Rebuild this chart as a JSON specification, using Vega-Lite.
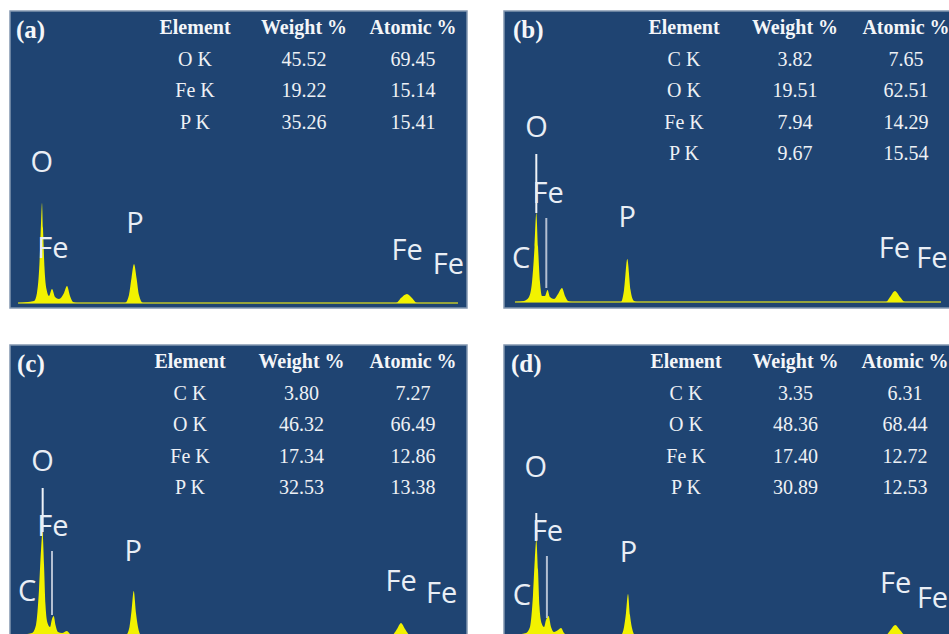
{
  "$schema": "https://vega.github.io/schema/vega-lite/v6.json",
  "background": "white",
  "padding": {"left": 9, "top": 10, "right": 0, "bottom": 0},
  "config": {
    "view": {"fill": "#1f4472", "stroke": "#8396b0", "strokeWidth": 1.5},
    "concat": {"spacing": 35}
  },
  "datasets": {
    "spec": [
      {"p":"a","keV":0.131,"counts":0},{"p":"a","keV":0.392,"counts":2},{"p":"a","keV":0.440,"counts":10},{"p":"a","keV":0.481,"counts":40},{"p":"a","keV":0.506,"counts":80},{"p":"a","keV":0.522,"counts":100},{"p":"a","keV":0.538,"counts":75},{"p":"a","keV":0.563,"counts":35},{"p":"a","keV":0.595,"counts":14},{"p":"a","keV":0.636,"counts":7},{"p":"a","keV":0.685,"counts":14},{"p":"a","keV":0.734,"counts":6},{"p":"a","keV":0.799,"counts":4},{"p":"a","keV":0.881,"counts":10},{"p":"a","keV":0.930,"counts":17},{"p":"a","keV":0.979,"counts":7},{"p":"a","keV":1.028,"counts":1},{"p":"a","keV":1.093,"counts":0},{"p":"a","keV":1.876,"counts":0},{"p":"a","keV":1.941,"counts":8},{"p":"a","keV":1.982,"counts":25},{"p":"a","keV":2.023,"counts":39},{"p":"a","keV":2.064,"counts":25},{"p":"a","keV":2.104,"counts":8},{"p":"a","keV":2.170,"counts":0},{"p":"a","keV":6.297,"counts":0},{"p":"a","keV":6.378,"counts":5},{"p":"a","keV":6.476,"counts":9},{"p":"a","keV":6.558,"counts":5},{"p":"a","keV":6.639,"counts":0},{"p":"a","keV":7.308,"counts":0},
      {"p":"b","keV":0.179,"counts":0},{"p":"b","keV":0.326,"counts":1},{"p":"b","keV":0.408,"counts":5},{"p":"b","keV":0.457,"counts":20},{"p":"b","keV":0.498,"counts":55},{"p":"b","keV":0.527,"counts":89},{"p":"b","keV":0.555,"counts":55},{"p":"b","keV":0.587,"counts":20},{"p":"b","keV":0.620,"counts":6},{"p":"b","keV":0.669,"counts":6},{"p":"b","keV":0.710,"counts":12},{"p":"b","keV":0.750,"counts":5},{"p":"b","keV":0.816,"counts":3},{"p":"b","keV":0.881,"counts":8},{"p":"b","keV":0.946,"counts":14},{"p":"b","keV":0.995,"counts":6},{"p":"b","keV":1.044,"counts":1},{"p":"b","keV":1.109,"counts":0},{"p":"b","keV":1.909,"counts":0},{"p":"b","keV":1.958,"counts":12},{"p":"b","keV":2.011,"counts":43},{"p":"b","keV":2.064,"counts":12},{"p":"b","keV":2.121,"counts":1},{"p":"b","keV":2.170,"counts":0},{"p":"b","keV":6.232,"counts":0},{"p":"b","keV":6.297,"counts":5},{"p":"b","keV":6.378,"counts":11},{"p":"b","keV":6.460,"counts":5},{"p":"b","keV":6.542,"counts":0},{"p":"b","keV":7.129,"counts":0},
      {"p":"c","keV":0.147,"counts":0},{"p":"c","keV":0.359,"counts":2},{"p":"c","keV":0.424,"counts":10},{"p":"c","keV":0.473,"counts":45},{"p":"c","keV":0.506,"counts":85},{"p":"c","keV":0.530,"counts":103},{"p":"c","keV":0.555,"counts":70},{"p":"c","keV":0.579,"counts":30},{"p":"c","keV":0.612,"counts":12},{"p":"c","keV":0.653,"counts":8},{"p":"c","keV":0.685,"counts":16},{"p":"c","keV":0.713,"counts":19},{"p":"c","keV":0.742,"counts":10},{"p":"c","keV":0.783,"counts":3},{"p":"c","keV":0.848,"counts":2},{"p":"c","keV":0.930,"counts":4},{"p":"c","keV":0.979,"counts":1},{"p":"c","keV":1.044,"counts":0},{"p":"c","keV":1.892,"counts":0},{"p":"c","keV":1.949,"counts":8},{"p":"c","keV":1.982,"counts":24},{"p":"c","keV":2.018,"counts":44},{"p":"c","keV":2.055,"counts":22},{"p":"c","keV":2.088,"counts":8},{"p":"c","keV":2.137,"counts":0},{"p":"c","keV":6.232,"counts":0},{"p":"c","keV":6.313,"counts":6},{"p":"c","keV":6.378,"counts":12},{"p":"c","keV":6.444,"counts":6},{"p":"c","keV":6.525,"counts":0},{"p":"c","keV":7.325,"counts":0},
      {"p":"d","keV":0.163,"counts":0},{"p":"d","keV":0.359,"counts":2},{"p":"d","keV":0.424,"counts":8},{"p":"d","keV":0.473,"counts":40},{"p":"d","keV":0.502,"counts":75},{"p":"d","keV":0.527,"counts":95},{"p":"d","keV":0.555,"counts":65},{"p":"d","keV":0.579,"counts":28},{"p":"d","keV":0.612,"counts":12},{"p":"d","keV":0.653,"counts":8},{"p":"d","keV":0.685,"counts":15},{"p":"d","keV":0.726,"counts":19},{"p":"d","keV":0.767,"counts":8},{"p":"d","keV":0.816,"counts":3},{"p":"d","keV":0.881,"counts":5},{"p":"d","keV":0.930,"counts":7},{"p":"d","keV":0.979,"counts":2},{"p":"d","keV":1.028,"counts":0},{"p":"d","keV":1.909,"counts":0},{"p":"d","keV":1.958,"counts":8},{"p":"d","keV":1.990,"counts":22},{"p":"d","keV":2.023,"counts":41},{"p":"d","keV":2.055,"counts":20},{"p":"d","keV":2.088,"counts":7},{"p":"d","keV":2.137,"counts":0},{"p":"d","keV":6.232,"counts":0},{"p":"d","keV":6.305,"counts":5},{"p":"d","keV":6.383,"counts":10},{"p":"d","keV":6.460,"counts":5},{"p":"d","keV":6.542,"counts":0},{"p":"d","keV":7.178,"counts":0}
    ],
    "labels": [
      {"p":"a","keV":0.70,"counts":45,"text":"Fe"},{"p":"a","keV":0.517,"counts":131,"text":"O"},{"p":"a","keV":2.04,"counts":70,"text":"P"},{"p":"a","keV":6.48,"counts":43,"text":"Fe"},{"p":"a","keV":7.15,"counts":29,"text":"Fe"},
      {"p":"b","keV":0.28,"counts":34,"text":"C"},{"p":"b","keV":0.53,"counts":165,"text":"O"},{"p":"b","keV":0.72,"counts":99,"text":"Fe"},{"p":"b","keV":2.01,"counts":75,"text":"P"},{"p":"b","keV":6.37,"counts":44,"text":"Fe"},{"p":"b","keV":6.98,"counts":34,"text":"Fe"},
      {"p":"c","keV":0.28,"counts":34,"text":"C"},{"p":"c","keV":0.53,"counts":164,"text":"O"},{"p":"c","keV":0.70,"counts":99,"text":"Fe"},{"p":"c","keV":2.01,"counts":74,"text":"P"},{"p":"c","keV":6.38,"counts":44,"text":"Fe"},{"p":"c","keV":7.04,"counts":32,"text":"Fe"},
      {"p":"d","keV":0.29,"counts":30,"text":"C"},{"p":"d","keV":0.52,"counts":158,"text":"O"},{"p":"d","keV":0.71,"counts":94,"text":"Fe"},{"p":"d","keV":2.03,"counts":73,"text":"P"},{"p":"d","keV":6.39,"counts":42,"text":"Fe"},{"p":"d","keV":6.99,"counts":27,"text":"Fe"}
    ],
    "panels": [
      {"p":"a","keV":0.098,"counts":265,"text":"(a)"},
      {"p":"b","keV":0.147,"counts":264,"text":"(b)"},
      {"p":"c","keV":0.114,"counts":263,"text":"(c)"},
      {"p":"d","keV":0.114,"counts":263,"text":"(d)"}
    ],
    "lines": [
      {"p":"b","keV":0.527,"y1":89,"y2":148,"kind":"O"},{"p":"b","keV":0.69,"y1":14,"y2":84,"kind":"Fe"},
      {"p":"c","keV":0.533,"y1":103,"y2":147,"kind":"O"},{"p":"c","keV":0.685,"y1":20,"y2":84,"kind":"Fe"},
      {"p":"d","keV":0.527,"y1":95,"y2":122,"kind":"O"},{"p":"d","keV":0.70,"y1":17,"y2":79,"kind":"Fe"}
    ],
    "table": [
      {"p":"a","row":0,"col":"Element","text":"Element"},{"p":"a","row":0,"col":"Weight %","text":"Weight %"},{"p":"a","row":0,"col":"Atomic %","text":"Atomic %"},
      {"p":"a","row":1,"col":"Element","text":"O K"},{"p":"a","row":1,"col":"Weight %","text":"45.52"},{"p":"a","row":1,"col":"Atomic %","text":"69.45"},
      {"p":"a","row":2,"col":"Element","text":"Fe K"},{"p":"a","row":2,"col":"Weight %","text":"19.22"},{"p":"a","row":2,"col":"Atomic %","text":"15.14"},
      {"p":"a","row":3,"col":"Element","text":"P K"},{"p":"a","row":3,"col":"Weight %","text":"35.26"},{"p":"a","row":3,"col":"Atomic %","text":"15.41"},
      {"p":"b","row":0,"col":"Element","text":"Element"},{"p":"b","row":0,"col":"Weight %","text":"Weight %"},{"p":"b","row":0,"col":"Atomic %","text":"Atomic %"},
      {"p":"b","row":1,"col":"Element","text":"C K"},{"p":"b","row":1,"col":"Weight %","text":"3.82"},{"p":"b","row":1,"col":"Atomic %","text":"7.65"},
      {"p":"b","row":2,"col":"Element","text":"O K"},{"p":"b","row":2,"col":"Weight %","text":"19.51"},{"p":"b","row":2,"col":"Atomic %","text":"62.51"},
      {"p":"b","row":3,"col":"Element","text":"Fe K"},{"p":"b","row":3,"col":"Weight %","text":"7.94"},{"p":"b","row":3,"col":"Atomic %","text":"14.29"},
      {"p":"b","row":4,"col":"Element","text":"P K"},{"p":"b","row":4,"col":"Weight %","text":"9.67"},{"p":"b","row":4,"col":"Atomic %","text":"15.54"},
      {"p":"c","row":0,"col":"Element","text":"Element"},{"p":"c","row":0,"col":"Weight %","text":"Weight %"},{"p":"c","row":0,"col":"Atomic %","text":"Atomic %"},
      {"p":"c","row":1,"col":"Element","text":"C K"},{"p":"c","row":1,"col":"Weight %","text":"3.80"},{"p":"c","row":1,"col":"Atomic %","text":"7.27"},
      {"p":"c","row":2,"col":"Element","text":"O K"},{"p":"c","row":2,"col":"Weight %","text":"46.32"},{"p":"c","row":2,"col":"Atomic %","text":"66.49"},
      {"p":"c","row":3,"col":"Element","text":"Fe K"},{"p":"c","row":3,"col":"Weight %","text":"17.34"},{"p":"c","row":3,"col":"Atomic %","text":"12.86"},
      {"p":"c","row":4,"col":"Element","text":"P K"},{"p":"c","row":4,"col":"Weight %","text":"32.53"},{"p":"c","row":4,"col":"Atomic %","text":"13.38"},
      {"p":"d","row":0,"col":"Element","text":"Element"},{"p":"d","row":0,"col":"Weight %","text":"Weight %"},{"p":"d","row":0,"col":"Atomic %","text":"Atomic %"},
      {"p":"d","row":1,"col":"Element","text":"C K"},{"p":"d","row":1,"col":"Weight %","text":"3.35"},{"p":"d","row":1,"col":"Atomic %","text":"6.31"},
      {"p":"d","row":2,"col":"Element","text":"O K"},{"p":"d","row":2,"col":"Weight %","text":"48.36"},{"p":"d","row":2,"col":"Atomic %","text":"68.44"},
      {"p":"d","row":3,"col":"Element","text":"Fe K"},{"p":"d","row":3,"col":"Weight %","text":"17.40"},{"p":"d","row":3,"col":"Atomic %","text":"12.72"},
      {"p":"d","row":4,"col":"Element","text":"P K"},{"p":"d","row":4,"col":"Weight %","text":"30.89"},{"p":"d","row":4,"col":"Atomic %","text":"12.53"}
    ]
  },
  "vconcat": [
    {"hconcat": [
      {
        "width": 457, "height": 297,
        "layer": [
          {"layer": [
            {"data": {"name": "spec"}, "transform": [{"filter": "datum.p === 'a'"}], "mark": {"type": "line", "color": "#96a43c", "strokeWidth": 2},
             "encoding": {"x": {"field": "keV", "type": "quantitative", "scale": {"domain": [0, 7.455], "nice": false, "zero": false}, "axis": null}, "y": {"datum": 0, "type": "quantitative", "scale": {"domain": [-5, 292], "nice": false, "zero": false}, "axis": null}}},
            {"data": {"name": "spec"}, "transform": [{"filter": "datum.p === 'a'"}], "mark": {"type": "area", "color": "#f2f200", "interpolate": "monotone"},
             "encoding": {"x": {"field": "keV", "type": "quantitative"}, "y": {"field": "counts", "type": "quantitative"}, "y2": {"datum": 0}}},
            {"data": {"name": "labels"}, "transform": [{"filter": "datum.p === 'a'"}], "mark": {"type": "text", "font": "Open Sans", "fontSize": 29, "color": "#e9eef5", "baseline": "alphabetic", "align": "center"},
             "encoding": {"x": {"field": "keV", "type": "quantitative"}, "y": {"field": "counts", "type": "quantitative"}, "text": {"field": "text"}}},
            {"data": {"name": "panels"}, "transform": [{"filter": "datum.p === 'a'"}], "mark": {"type": "text", "font": "Liberation Serif", "fontWeight": "bold", "fontSize": 25, "color": "#f4f6f9", "baseline": "alphabetic", "align": "left"},
             "encoding": {"x": {"field": "keV", "type": "quantitative"}, "y": {"field": "counts", "type": "quantitative"}, "text": {"field": "text"}}}
          ]},
          {"data": {"name": "table"}, "transform": [{"filter": "datum.p === 'a'"}],
           "encoding": {"x": {"field": "col", "type": "ordinal", "scale": {"type": "point", "domain": ["Element", "Weight %", "Atomic %"], "range": [185, 403], "padding": 0}, "axis": null},
                        "y": {"field": "row", "type": "ordinal", "scale": {"type": "point", "domain": [0, 1, 2, 3, 4], "range": [23, 149], "padding": 0}, "axis": null},
                        "text": {"field": "text"}},
           "layer": [
             {"transform": [{"filter": "datum.row === 0"}], "mark": {"type": "text", "font": "Liberation Serif", "fontWeight": "bold", "fontSize": 20, "color": "#f4f6f9", "baseline": "alphabetic"}},
             {"transform": [{"filter": "datum.row > 0"}], "mark": {"type": "text", "font": "Liberation Serif", "fontSize": 20, "color": "#eef1f5", "baseline": "alphabetic"}}
           ]}
        ],
        "resolve": {"scale": {"x": "independent", "y": "independent"}}
      },
      {
        "width": 448, "height": 297,
        "layer": [
          {"layer": [
            {"data": {"name": "spec"}, "transform": [{"filter": "datum.p === 'b'"}], "mark": {"type": "line", "color": "#96a43c", "strokeWidth": 2},
             "encoding": {"x": {"field": "keV", "type": "quantitative", "scale": {"domain": [0, 7.308], "nice": false, "zero": false}, "axis": null}, "y": {"datum": 0, "type": "quantitative", "scale": {"domain": [-6, 291], "nice": false, "zero": false}, "axis": null}}},
            {"data": {"name": "spec"}, "transform": [{"filter": "datum.p === 'b'"}], "mark": {"type": "area", "color": "#f2f200", "interpolate": "monotone"},
             "encoding": {"x": {"field": "keV", "type": "quantitative"}, "y": {"field": "counts", "type": "quantitative"}, "y2": {"datum": 0}}},
            {"data": {"name": "lines"}, "transform": [{"filter": "datum.p === 'b'"}], "mark": {"type": "rule", "strokeWidth": 2},
             "encoding": {"x": {"field": "keV", "type": "quantitative"}, "y": {"field": "y1", "type": "quantitative"}, "y2": {"field": "y2"}, "color": {"field": "kind", "type": "nominal", "scale": {"domain": ["O", "Fe"], "range": ["#eef2f7", "#b3bfd2"]}, "legend": null}}},
            {"data": {"name": "labels"}, "transform": [{"filter": "datum.p === 'b'"}], "mark": {"type": "text", "font": "Open Sans", "fontSize": 29, "color": "#e9eef5", "baseline": "alphabetic", "align": "center"},
             "encoding": {"x": {"field": "keV", "type": "quantitative"}, "y": {"field": "counts", "type": "quantitative"}, "text": {"field": "text"}}},
            {"data": {"name": "panels"}, "transform": [{"filter": "datum.p === 'b'"}], "mark": {"type": "text", "font": "Liberation Serif", "fontWeight": "bold", "fontSize": 25, "color": "#f4f6f9", "baseline": "alphabetic", "align": "left"},
             "encoding": {"x": {"field": "keV", "type": "quantitative"}, "y": {"field": "counts", "type": "quantitative"}, "text": {"field": "text"}}}
          ]},
          {"data": {"name": "table"}, "transform": [{"filter": "datum.p === 'b'"}],
           "encoding": {"x": {"field": "col", "type": "ordinal", "scale": {"type": "point", "domain": ["Element", "Weight %", "Atomic %"], "range": [180, 402], "padding": 0}, "axis": null},
                        "y": {"field": "row", "type": "ordinal", "scale": {"type": "point", "domain": [0, 1, 2, 3, 4], "range": [23, 149], "padding": 0}, "axis": null},
                        "text": {"field": "text"}},
           "layer": [
             {"transform": [{"filter": "datum.row === 0"}], "mark": {"type": "text", "font": "Liberation Serif", "fontWeight": "bold", "fontSize": 20, "color": "#f4f6f9", "baseline": "alphabetic"}},
             {"transform": [{"filter": "datum.row > 0"}], "mark": {"type": "text", "font": "Liberation Serif", "fontSize": 20, "color": "#eef1f5", "baseline": "alphabetic"}}
           ]}
        ],
        "resolve": {"scale": {"x": "independent", "y": "independent"}}
      }
    ]},
    {"hconcat": [
      {
        "width": 457, "height": 292,
        "layer": [
          {"layer": [
            {"data": {"name": "spec"}, "transform": [{"filter": "datum.p === 'c'"}], "mark": {"type": "line", "color": "#96a43c", "strokeWidth": 2},
             "encoding": {"x": {"field": "keV", "type": "quantitative", "scale": {"domain": [0, 7.455], "nice": false, "zero": false}, "axis": null}, "y": {"datum": 0, "type": "quantitative", "scale": {"domain": [-2, 290], "nice": false, "zero": false}, "axis": null}}},
            {"data": {"name": "spec"}, "transform": [{"filter": "datum.p === 'c'"}], "mark": {"type": "area", "color": "#f2f200", "interpolate": "monotone"},
             "encoding": {"x": {"field": "keV", "type": "quantitative"}, "y": {"field": "counts", "type": "quantitative"}, "y2": {"datum": 0}}},
            {"data": {"name": "lines"}, "transform": [{"filter": "datum.p === 'c'"}], "mark": {"type": "rule", "strokeWidth": 2},
             "encoding": {"x": {"field": "keV", "type": "quantitative"}, "y": {"field": "y1", "type": "quantitative"}, "y2": {"field": "y2"}, "color": {"field": "kind", "type": "nominal", "scale": {"domain": ["O", "Fe"], "range": ["#eef2f7", "#b3bfd2"]}, "legend": null}}},
            {"data": {"name": "labels"}, "transform": [{"filter": "datum.p === 'c'"}], "mark": {"type": "text", "font": "Open Sans", "fontSize": 29, "color": "#e9eef5", "baseline": "alphabetic", "align": "center"},
             "encoding": {"x": {"field": "keV", "type": "quantitative"}, "y": {"field": "counts", "type": "quantitative"}, "text": {"field": "text"}}},
            {"data": {"name": "panels"}, "transform": [{"filter": "datum.p === 'c'"}], "mark": {"type": "text", "font": "Liberation Serif", "fontWeight": "bold", "fontSize": 25, "color": "#f4f6f9", "baseline": "alphabetic", "align": "left"},
             "encoding": {"x": {"field": "keV", "type": "quantitative"}, "y": {"field": "counts", "type": "quantitative"}, "text": {"field": "text"}}}
          ]},
          {"data": {"name": "table"}, "transform": [{"filter": "datum.p === 'c'"}],
           "encoding": {"x": {"field": "col", "type": "ordinal", "scale": {"type": "point", "domain": ["Element", "Weight %", "Atomic %"], "range": [180, 403], "padding": 0}, "axis": null},
                        "y": {"field": "row", "type": "ordinal", "scale": {"type": "point", "domain": [0, 1, 2, 3, 4], "range": [23, 149], "padding": 0}, "axis": null},
                        "text": {"field": "text"}},
           "layer": [
             {"transform": [{"filter": "datum.row === 0"}], "mark": {"type": "text", "font": "Liberation Serif", "fontWeight": "bold", "fontSize": 20, "color": "#f4f6f9", "baseline": "alphabetic"}},
             {"transform": [{"filter": "datum.row > 0"}], "mark": {"type": "text", "font": "Liberation Serif", "fontSize": 20, "color": "#eef1f5", "baseline": "alphabetic"}}
           ]}
        ],
        "resolve": {"scale": {"x": "independent", "y": "independent"}}
      },
      {
        "width": 448, "height": 292,
        "layer": [
          {"layer": [
            {"data": {"name": "spec"}, "transform": [{"filter": "datum.p === 'd'"}], "mark": {"type": "line", "color": "#96a43c", "strokeWidth": 2},
             "encoding": {"x": {"field": "keV", "type": "quantitative", "scale": {"domain": [0, 7.308], "nice": false, "zero": false}, "axis": null}, "y": {"datum": 0, "type": "quantitative", "scale": {"domain": [-2, 290], "nice": false, "zero": false}, "axis": null}}},
            {"data": {"name": "spec"}, "transform": [{"filter": "datum.p === 'd'"}], "mark": {"type": "area", "color": "#f2f200", "interpolate": "monotone"},
             "encoding": {"x": {"field": "keV", "type": "quantitative"}, "y": {"field": "counts", "type": "quantitative"}, "y2": {"datum": 0}}},
            {"data": {"name": "lines"}, "transform": [{"filter": "datum.p === 'd'"}], "mark": {"type": "rule", "strokeWidth": 2},
             "encoding": {"x": {"field": "keV", "type": "quantitative"}, "y": {"field": "y1", "type": "quantitative"}, "y2": {"field": "y2"}, "color": {"field": "kind", "type": "nominal", "scale": {"domain": ["O", "Fe"], "range": ["#eef2f7", "#b3bfd2"]}, "legend": null}}},
            {"data": {"name": "labels"}, "transform": [{"filter": "datum.p === 'd'"}], "mark": {"type": "text", "font": "Open Sans", "fontSize": 29, "color": "#e9eef5", "baseline": "alphabetic", "align": "center"},
             "encoding": {"x": {"field": "keV", "type": "quantitative"}, "y": {"field": "counts", "type": "quantitative"}, "text": {"field": "text"}}},
            {"data": {"name": "panels"}, "transform": [{"filter": "datum.p === 'd'"}], "mark": {"type": "text", "font": "Liberation Serif", "fontWeight": "bold", "fontSize": 25, "color": "#f4f6f9", "baseline": "alphabetic", "align": "left"},
             "encoding": {"x": {"field": "keV", "type": "quantitative"}, "y": {"field": "counts", "type": "quantitative"}, "text": {"field": "text"}}}
          ]},
          {"data": {"name": "table"}, "transform": [{"filter": "datum.p === 'd'"}],
           "encoding": {"x": {"field": "col", "type": "ordinal", "scale": {"type": "point", "domain": ["Element", "Weight %", "Atomic %"], "range": [182, 401], "padding": 0}, "axis": null},
                        "y": {"field": "row", "type": "ordinal", "scale": {"type": "point", "domain": [0, 1, 2, 3, 4], "range": [23, 149], "padding": 0}, "axis": null},
                        "text": {"field": "text"}},
           "layer": [
             {"transform": [{"filter": "datum.row === 0"}], "mark": {"type": "text", "font": "Liberation Serif", "fontWeight": "bold", "fontSize": 20, "color": "#f4f6f9", "baseline": "alphabetic"}},
             {"transform": [{"filter": "datum.row > 0"}], "mark": {"type": "text", "font": "Liberation Serif", "fontSize": 20, "color": "#eef1f5", "baseline": "alphabetic"}}
           ]}
        ],
        "resolve": {"scale": {"x": "independent", "y": "independent"}}
      }
    ]}
  ]
}
